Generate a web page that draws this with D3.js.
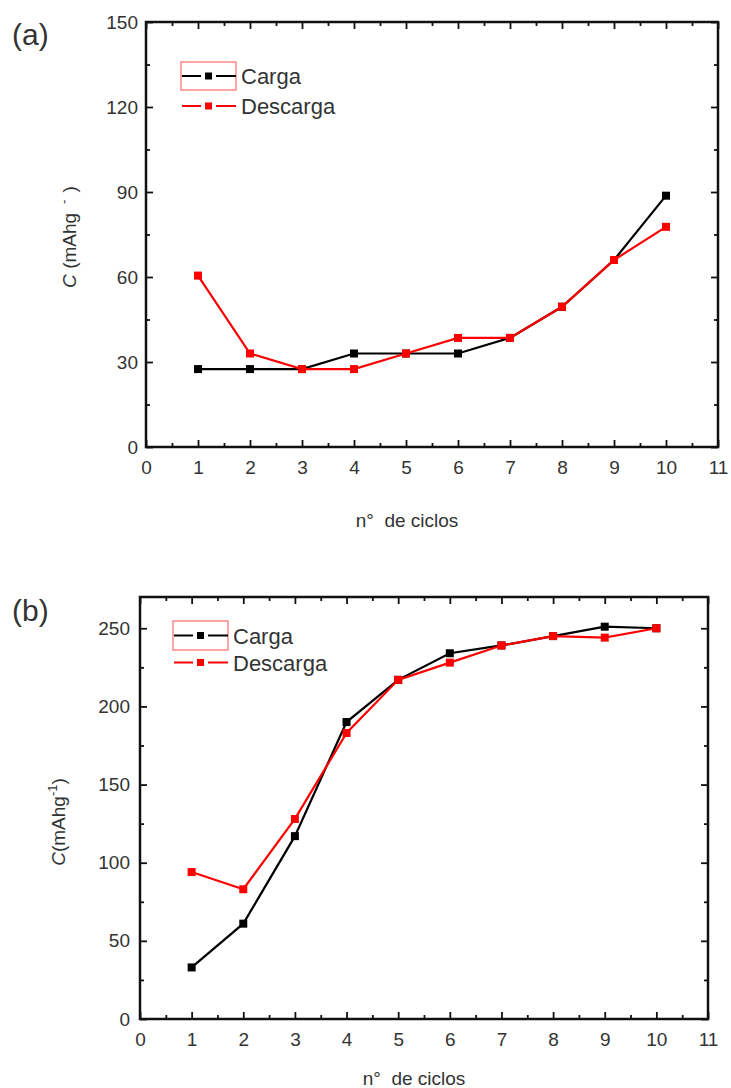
<!DOCTYPE html>
<html><head><meta charset="utf-8">
<script src="https://cdn.jsdelivr.net/npm/d3@7"></script>
<style>body{margin:0;background:#fff}svg{display:block}text{font-family:"Liberation Sans",Arial,sans-serif;fill:#333}</style>
</head><body>
<svg id="c" width="731" height="1088"></svg>
<script>
const cycles = [1,2,3,4,5,6,7,8,9,10];
const cargaA = [27.5,27.5,27.5,33,33,33,38.5,49.5,66,88.7];
const descargaA = [60.5,33,27.5,27.5,33,38.5,38.5,49.5,66,77.7];
const cargaB = [33,61,117,190,217,234,239,245,251,250];
const descargaB = [94,83,128,183,217,228,239,245,244,250];
const xTicks = [0,1,2,3,4,5,6,7,8,9,10,11];
const yTicksA = [0,30,60,90,120,150];
const yTicksB = [0,50,100,150,200,250];
const seriesNames = ["Carga","Descarga"];
const xTitle = "n°\u00a0 de ciclos";

const svg = d3.select("#c");

function panel(o){
  const g = svg.append("g");
  const x = d3.scaleLinear().domain([0,11]).range([o.x0,o.x1]);
  const y = d3.scaleLinear().domain([0,o.ymax]).range([o.y1,o.y0]);
  const xMinor = d3.range(0.5,11,1);
  const yMinor = d3.range(o.minor, o.ymax, o.minor).filter(v=>Math.abs(v/o.major-Math.round(v/o.major))>1e-6);
  const axStyle = a=>a.call(s=>s.select(".domain").remove()).call(s=>s.selectAll("line").attr("stroke","#111").attr("stroke-width",1.8));
  const MJ=7, MN=4;
  g.append("g").attr("transform",`translate(0,${o.y1})`).call(d3.axisBottom(x).tickValues(xTicks).tickSize(-MJ).tickPadding(14).tickFormat(d3.format("d"))).call(axStyle)
    .call(s=>s.selectAll("text").attr("font-size",19).attr("fill","#333"));
  g.append("g").attr("transform",`translate(0,${o.y1})`).call(d3.axisBottom(x).tickValues(xMinor).tickSize(-MN).tickFormat("")).call(axStyle);
  g.append("g").attr("transform",`translate(0,${o.y0})`).call(d3.axisTop(x).tickValues(xTicks).tickSize(-MJ).tickFormat("")).call(axStyle);
  g.append("g").attr("transform",`translate(0,${o.y0})`).call(d3.axisTop(x).tickValues(xMinor).tickSize(-MN).tickFormat("")).call(axStyle);
  g.append("g").attr("transform",`translate(${o.x0},0)`).call(d3.axisLeft(y).tickValues(o.yTicks).tickSize(-MJ).tickPadding(o.ypad)).call(axStyle)
    .call(s=>s.selectAll("text").attr("font-size",19).attr("fill","#333"));
  g.append("g").attr("transform",`translate(${o.x0},0)`).call(d3.axisLeft(y).tickValues(yMinor).tickSize(-MN).tickFormat("")).call(axStyle);
  g.append("g").attr("transform",`translate(${o.x1},0)`).call(d3.axisRight(y).tickValues(o.yTicks).tickSize(-MJ).tickFormat("")).call(axStyle);
  g.append("g").attr("transform",`translate(${o.x1},0)`).call(d3.axisRight(y).tickValues(yMinor).tickSize(-MN).tickFormat("")).call(axStyle);
  g.append("rect").attr("x",o.x0).attr("y",o.y0).attr("width",o.x1-o.x0).attr("height",o.y1-o.y0)
    .attr("fill","none").attr("stroke","#111").attr("stroke-width",2.5);
  const line = d3.line().x((d,i)=>x(cycles[i])).y(d=>y(d));
  [[o.carga,"#000"],[o.descarga,"#ff0000"]].forEach(([vals,col])=>{
    g.append("path").attr("d",line(vals)).attr("fill","none").attr("stroke",col).attr("stroke-width",2.2);
    g.selectAll(null).data(vals).enter().append("rect")
      .attr("x",(d,i)=>x(cycles[i])-4).attr("y",d=>y(d)-4).attr("width",8).attr("height",8).attr("fill",col);
  });
  const L = o.leg;
  g.append("rect").attr("x",L.x).attr("y",L.y).attr("width",55).attr("height",L.h).attr("fill","none").attr("stroke","#ff6b6b").attr("stroke-width",1.2);
  [["#000",0],["#ff0000",1]].forEach(([col,k])=>{
    const yy = L.y+L.h/2+k*L.gap;
    g.append("line").attr("x1",L.x+1).attr("x2",L.x+20).attr("y1",yy).attr("y2",yy).attr("stroke",col).attr("stroke-width",2);
    g.append("line").attr("x1",L.x+35).attr("x2",L.x+55).attr("y1",yy).attr("y2",yy).attr("stroke",col).attr("stroke-width",2);
    g.append("rect").attr("x",L.x+24).attr("y",yy-3.5).attr("width",7).attr("height",7).attr("fill",col);
    g.append("text").attr("x",L.x+60).attr("y",yy+8).attr("font-size",22).text(seriesNames[k]);
  });
  g.append("text").attr("x",o.xtX).attr("y",o.xtY).attr("text-anchor","middle").attr("font-size",19).text(xTitle);
  const yt = g.append("text").attr("transform",`translate(${o.ytX},${o.ytY}) rotate(-90)`).attr("text-anchor","middle").attr("font-size",19);
  yt.append("tspan").attr("font-style","italic").text("C");
  yt.append("tspan").text(o.mid);
  yt.append("tspan").attr("dy",-8).attr("font-size",13).text(o.sup);
  yt.append("tspan").attr("dy",8).text(")");
  g.append("text").attr("x",o.lab[0]).attr("y",o.lab[1]).attr("font-size",30).attr("fill","#1c2340").text(o.label);
}

panel({x0:146,x1:718,y0:22,y1:447,ymax:150,major:30,minor:15,yTicks:yTicksA,ypad:8,carga:cargaA,descarga:descargaA,
  leg:{x:181,y:62,h:28,gap:30},xtX:407,xtY:527,ytX:76,ytY:237,mid:"\u00a0(mAhg\u00a0",sup:"\u00a0-\u00a0\u00a0",label:"(a)",lab:[12,45]});
panel({x0:140,x1:708,y0:597,y1:1019,ymax:270,major:50,minor:25,yTicks:yTicksB,ypad:10,carga:cargaB,descarga:descargaB,
  leg:{x:173,y:621,h:29,gap:27},xtX:414,xtY:1085,ytX:65,ytY:822,mid:"(mAhg",sup:"-1",label:"(b)",lab:[12,621]});
</script>
</body></html>
